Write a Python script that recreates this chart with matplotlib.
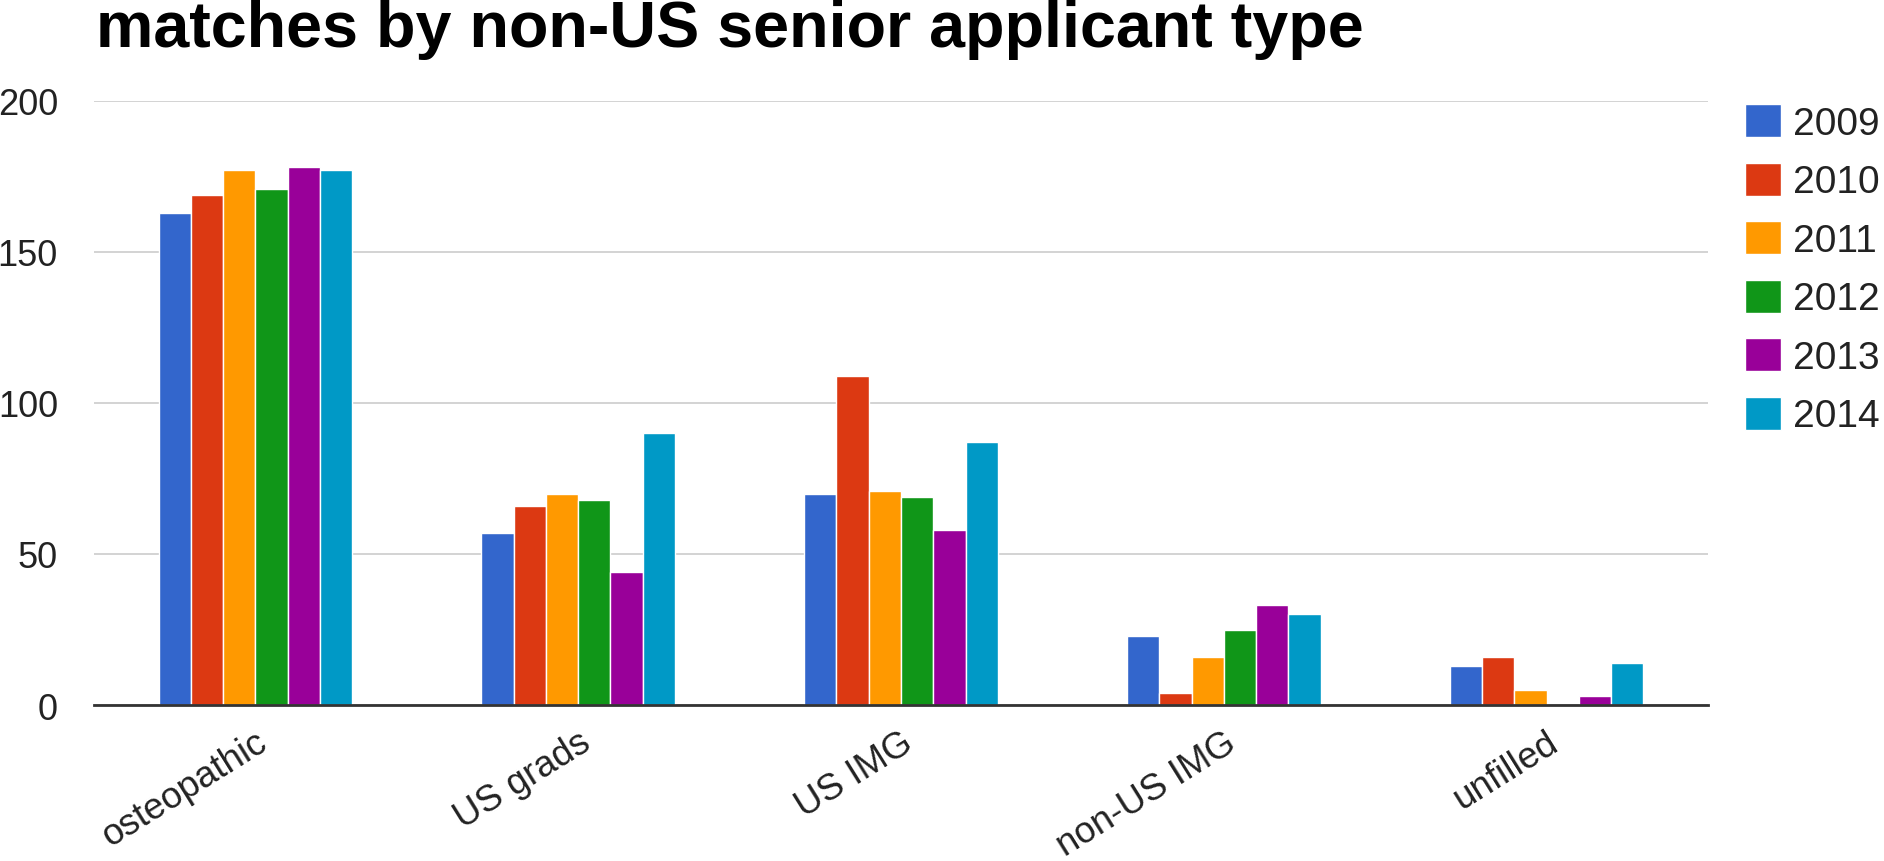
import matplotlib.pyplot as plt
import numpy as np

plt.rcParams['font.family'] = ['Liberation Sans', 'DejaVu Sans']

categories = ['osteopathic', 'US grads', 'US IMG', 'non-US IMG', 'unfilled']
years = ['2009', '2010', '2011', '2012', '2013', '2014']
values = {
    '2009': [163, 57, 70, 23, 13],
    '2010': [169, 66, 109, 4, 16],
    '2011': [177, 70, 71, 16, 5],
    '2012': [171, 68, 69, 25, 0],
    '2013': [178, 44, 58, 33, 3],
    '2014': [177, 90, 87, 30, 14],
}
colors = ['#3366cc', '#dc3912', '#ff9900', '#109618', '#990099', '#0099c6']

fig = plt.figure(figsize=(18.84, 8.62), dpi=100)
ax = fig.add_axes([94 / 1884, 1 - 706 / 862, (1708 - 94) / 1884, (706 - 102) / 862])

x = np.arange(len(categories))
w = 0.1
for i, yr in enumerate(years):
    ax.bar(x + (i - 2.5) * w, values[yr], width=w, color=colors[i],
           edgecolor='white', linewidth=1, label=yr, zorder=3)

ax.set_xlim(-0.5, 4.5)
ax.set_ylim(0, 200)
ax.set_yticks([0, 50, 100, 150, 200])
ax.grid(axis='y', color='#cccccc', linewidth=1.2, zorder=0)
for s in ['top', 'right', 'left']:
    ax.spines[s].set_visible(False)
ax.spines['bottom'].set_color('#333333')
ax.spines['bottom'].set_linewidth(2)
ax.spines['bottom'].set_zorder(4)
ax.tick_params(axis='y', length=0, pad=26, labelsize=26, labelcolor='#222222')
ax.tick_params(axis='x', length=0, pad=14, labelsize=26.5, labelcolor='#222222')
ax.set_xticks(x)
ax.set_xticklabels(categories, rotation=32, ha='right', rotation_mode='anchor')

fig.text(96 / 1884, 1 - 30 / 862, 'matches by non-US senior applicant type',
         fontsize=46.5, fontweight='bold', va='center', ha='left')

fig.legend(loc='upper left', bbox_to_anchor=(1710 / 1884, 1 - 70 / 862),
           frameon=False, fontsize=28, handlelength=0.93, handleheight=0.93,
           handletextpad=0.3, labelspacing=0.53, labelcolor='#222222')

fig.savefig('out.png', dpi=100)
